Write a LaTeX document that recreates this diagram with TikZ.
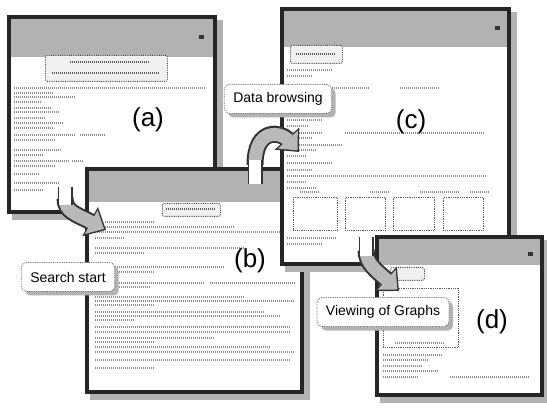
\documentclass[tikz,border=0pt]{standalone}
\usepackage{fontspec}
\setmainfont{Liberation Sans}
\usetikzlibrary{arrows.meta}
\tikzset{every picture/.style={line width=0.5pt}}
\tikzset{window/.style={draw=black!85,line width=4pt,fill=white,anchor=north west,inner sep=0pt,
  path picture={\fill[gray!60] (path picture bounding box.north west) rectangle ([yshift=-#1]path picture bounding box.north east);}}}
\tikzstyle{winshade}=[fill=gray!60]
\tikzstyle{txt}=[black!45,line width=1.5pt,dash pattern=on 1pt off 1pt]
\tikzstyle{btntxt}=[black!65,line width=1.5pt,dash pattern=on 1pt off 1pt]
\tikzstyle{button}=[draw=black!75,densely dotted,line width=0.8pt,fill=gray!12,rounded corners=2pt,anchor=north west,inner sep=0pt]
\tikzstyle{thumb}=[draw=black!65,densely dotted,line width=0.8pt,anchor=north west,inner sep=0pt]
\tikzstyle{closebox}=[fill=black!80,inner sep=0pt,minimum width=5pt,minimum height=4pt]
\tikzstyle{tag}=[font=\fontsize{26}{30}\selectfont]
\tikzstyle{callout}=[draw=black!60,densely dotted,line width=0.8pt,fill=white,rounded corners=5pt,inner xsep=9pt,minimum height=29pt,font=\fontsize{14}{16}\selectfont]
\tikzstyle{calloutshade}=[fill=gray!60,rounded corners=5pt,inner xsep=9pt,minimum height=29pt,font=\fontsize{14}{16}\selectfont]
\tikzstyle{flowedge}=[line width=17pt,black!80,-{Triangle[length=18pt,width=32pt]}]
\tikzstyle{flowfill}=[line width=13pt,gray!55,-{Triangle[length=14.5pt,width=26pt]},shorten >=2.2pt]
\tikzstyle{stem}=[draw=black!80,line width=1.5pt,double=white,double distance=12pt]
% name, x, y, width, height, title bar height
\newcommand\appwindow[6]{%
  \fill[winshade] (#2+5,#3+5) rectangle ++(#4+5,#5+5);
  \node[window=#6pt,minimum width=#4pt,minimum height=#5pt] (#1) at (#2,#3) {};}

\begin{document}
\begin{tikzpicture}[x=1pt,y=-1pt]
\useasboundingbox (0,0) rectangle (547,409);
% (a) search page
\appwindow{wa}{7}{15}{206}{195}{40}
\node[closebox] (xa) at (201,37) {};
\node[button,minimum width=122pt,minimum height=26pt] (btna) at (45,55) {};
\draw[btntxt] (70,62) -- (150,62);
\draw[btntxt] (52,73) -- (160,73);
\foreach \x/\y/\w in {14/88/191,14/93/40,14/97/58,50/97/25,14/102/28,14/108/38,14/112/45,
  14/118/32,14/123/50,14/128/40,14/135/62,80/135/25,14/140/42,14/150/48,14/155/30,
  14/161/55,72/161/12,14/166/42,14/174/25,14/183/45,14/190/30}
  \draw[txt] (\x,\y) -- ++(\w,0);
\node[tag] (la) at (148,120) {(a)};
% (b) search results
\appwindow{wb}{85}{167}{215}{223}{33}
\node[button,minimum width=58pt,minimum height=13pt] (btnb) at (162,203) {};
\draw[btntxt] (166,209) -- (216,209);
\foreach \x/\y/\w in {105/222/50,95/227/140,95/232/190,95/238/30,95/248/150,95/253/50,
  95/267/130,95/272/60,95/283/110,210/283/85,95/287/55,95/297/150,95/301/200,95/305/60,
  95/312/170,95/316/185,95/320/40,95/327/195,95/332/195,95/338/120,95/342/60,95/347/175,
  95/352/200,95/360/195,95/368/60}
  \draw[txt] (\x,\y) -- ++(\w,0);
\node[tag] (lb) at (250,261) {(b)};
% (c) data browsing
\appwindow{wc}{280}{7}{227}{255}{38}
\node[closebox] (xc) at (497,28) {};
\node[button,minimum width=52pt,minimum height=18pt] (btnc) at (290,45) {};
\draw[btntxt] (296,54) -- (336,54);
\foreach \x/\y/\w in {287/70/45,287/76/25,287/86/40,330/88/40,400/88/40,287/96/45,
  287/103/30,287/110/25,287/120/35,287/126/22,287/133/35,345/133/140,287/138/25,
  287/145/55,287/150/30,287/156/20,287/163/45,287/170/25,287/176/200,287/182/20,
  287/188/30,300/192/20,370/192/20,420/192/40,470/192/20,287/238/50,287/244/35}
  \draw[txt] (\x,\y) -- ++(\w,0);
\foreach \x/\w [count=\i] in {293/44,345/40,393/41,443/40}
  \node[thumb,minimum width=\w pt,minimum height=33pt] (g\i) at (\x,197) {};
\node[tag] (lc) at (411,122) {(c)};
% (d) graph view
\appwindow{wd}{375}{235}{165}{158}{28}
\node[closebox] (xd) at (530,254) {};
\node[button,minimum width=34pt,minimum height=13pt] (btnd) at (390,267) {};
\node[thumb,minimum width=75pt,minimum height=59pt] (gd) at (383,288) {};
\foreach \x/\y/\w in {395/343/50,383/355/60,383/360/45,383/366/40,383/371/55,
  383/377/35,450/377/80}
  \draw[txt] (\x,\y) -- ++(\w,0);
\node[tag] (ld) at (492,322) {(d)};
% flow arrows
\coordinate (s1) at (65,187);
\coordinate (k1) at (65,198);
\coordinate (e1) at (106,230);
\coordinate (s2) at (255,184);
\coordinate (k2) at (255,165);
\coordinate (e2) at (299,152);
\coordinate (s3) at (366,237);
\coordinate (k3) at (366,250);
\coordinate (e3) at (399,291);
\foreach \s in {flowedge,flowfill}{
  \draw[\s] (k1) .. controls +(0,14) and +(-30,-16) .. (e1);
  \draw[\s] (k2) .. controls +(0,-38) and +(-18,-20) .. (e2);
  \draw[\s] (k3) .. controls +(0,14) and +(-22,-20) .. (e3);
}
\draw[stem] (s1) -- (65,205);
\draw[stem] (s2) -- (255,160);
\draw[stem] (s3) -- (366,256);
% callouts
\node[calloutshade] (searchsh) at (72,281) {\phantom{Search start}};
\node[callout] (search) at (68,277) {Search start};
\node[calloutshade] (browsesh) at (282,103) {\phantom{Data browsing}};
\node[callout] (browse) at (278,99) {Data browsing};
\node[calloutshade] (viewingsh) at (387,316) {\phantom{Viewing of Graphs}};
\node[callout] (viewing) at (383,312) {Viewing of Graphs};
\end{tikzpicture}
\end{document}
